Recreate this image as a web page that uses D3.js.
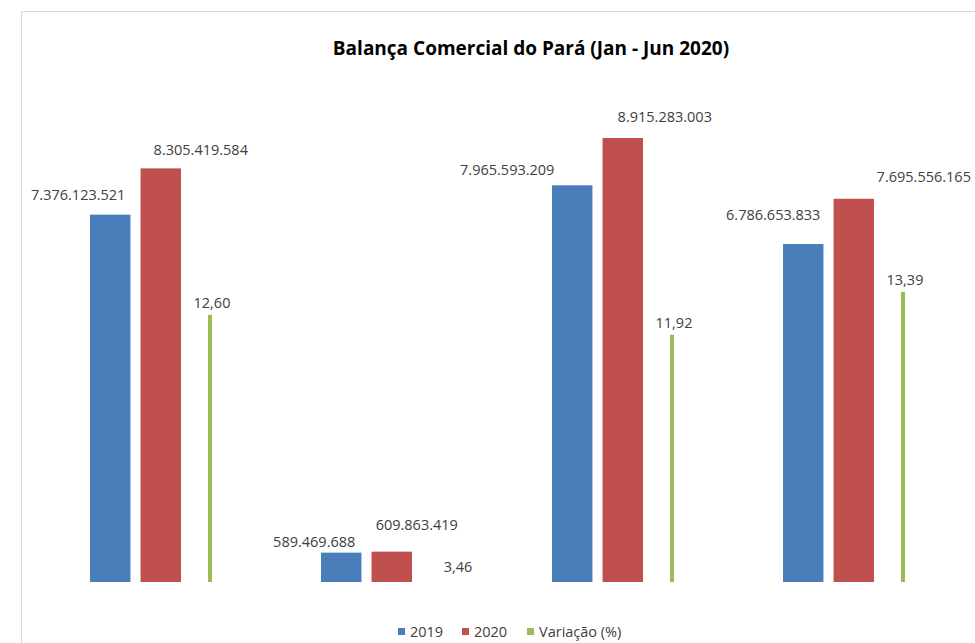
<!DOCTYPE html>
<html>
<head lang="pt">
  <meta charset="UTF-8">
<title>Balança Comercial do Pará</title>
<script src="https://cdn.jsdelivr.net/npm/d3@7"></script>
<style>
body { margin: 0; background: #fff; }
.lbl {
    font-family: "Open Sans", sans-serif;
    font-size: 14.5px;
    fill: #404040;
}
.title {
    font-family: "Open Sans", sans-serif;
    font-size: 19px;
    font-weight: bold;
    fill: #000;
}
</style>
</head>
<body>
<div id="vis"></div>
<script>

// data
var categories = ["Exportação", "Importação", "Corrente de Comércio", "Saldo Comercial"];
var v2019 = [7376123521, 589469688, 7965593209, 6786653833];
var v2020 = [8305419584, 609863419, 8915283003, 7695556165];
var variacao = [12.60, 3.46, 11.92, 13.39];
var series = ["2019", "2020", "Variação (%)"];

// layout (label nudges, as moved by hand in the original sheet)
var blueNudge  = [[-32, -20], [-27, -11], [-65, -15], [-30, -29]];
var redNudge   = [[40, -18], [25, -27], [42, -21], [70, -22]];
var greenNudge = [[2, -12], [17, -15], [2, -12], [2, -12]];

var colors = ["#4a7ebb", "#c0504d", "#9bbb59"];

var W = 975, H = 643;
var base = 582;

var svg = d3.select("#vis").append("svg")
  .attr("width", W)
  .attr("height", H);

// chart frame (cut off on the right)
svg.append("rect")
  .attr("x", 21.5).attr("y", 11.5)
  .attr("width", 1100).attr("height", 700)
  .attr("fill", "#fff")
  .attr("stroke", "#d9d9d9");

svg.append("text")
  .attr("class", "title")
  .attr("x", 531)
  .attr("y", 55)
  .attr("text-anchor", "middle")
  .text("Balança Comercial do Pará (Jan - Jun 2020)");

var x0 = d3.scaleBand().domain(categories).range([90, 90 + 4*231]);
var x1 = d3.scaleBand().domain(["2019", "2020"]).range([0, 91]).paddingInner(0.2);
var y = d3.scaleLinear().domain([0, 10e9]).range([base, 84]);
var y2 = d3.scaleLinear().domain([3.46, 14]).range([base, 274]);
var greenOff = 118, greenW = 4;

var fmt = function(v) { return d3.format(",")(v).replace(/,/g, "."); };
var fmtPct = function(v) { return d3.format(".2f")(v).replace(".", ","); };

var g = svg.selectAll(".grp")
  .data(categories)
  .enter().append("g")
  .attr("class", "grp")
  .attr("transform", function(d) { return "translate(" + x0(d) + ",0)"; });

// 2019
g.append("rect")
  .attr("x", x1("2019"))
  .attr("width", x1.bandwidth())
  .attr("y", function(d, i) { return y(v2019[i]); })
  .attr("height", function(d, i) { return base - y(v2019[i]); })
  .attr("fill", colors[0]);

// 2020
g.append("rect")
  .attr("x", x1("2020"))
  .attr("width", x1.bandwidth())
  .attr("y", function(d, i) { return y(v2020[i]); })
  .attr("height", function(d, i) { return base - y(v2020[i]); })
  .attr("fill", colors[1]);

// variacao (secondary axis)
g.append("rect")
  .attr("x", greenOff)
  .attr("width", greenW)
  .attr("y", function(d, i) { return y2(variacao[i]); })
  .attr("height", function(d, i) { return base - y2(variacao[i]); })
  .attr("fill", colors[2]);

// labels
g.append("text")
  .attr("class", "lbl")
  .attr("text-anchor", "middle")
  .attr("dy", "0.35em")
  .attr("x", function(d, i) { return x1("2019") + x1.bandwidth()/2 + blueNudge[i][0]; })
  .attr("y", function(d, i) { return y(v2019[i]) + blueNudge[i][1]; })
  .text(function(d, i) { return fmt(v2019[i]); });

g.append("text")
  .attr("class", "lbl")
  .attr("text-anchor", "middle")
  .attr("dy", "0.35em")
  .attr("x", function(d, i) { return x1("2020") + x1.bandwidth()/2 + redNudge[i][0]; })
  .attr("y", function(d, i) { return y(v2020[i]) + redNudge[i][1]; })
  .text(function(d, i) { return fmt(v2020[i]); });

g.append("text")
  .attr("class", "lbl")
  .attr("text-anchor", "middle")
  .attr("dy", "0.35em")
  .attr("x", function(d, i) { return greenOff + greenW/2 + greenNudge[i][0]; })
  .attr("y", function(d, i) { return y2(variacao[i]) + greenNudge[i][1]; })
  .text(function(d, i) { return fmtPct(variacao[i]); });

// legend
var legX = [398, 462, 527];
var leg = svg.selectAll(".leg")
  .data(series)
  .enter().append("g")
  .attr("class", "leg")
  .attr("transform", function(d, i) { return "translate(" + legX[i] + ",632)"; });

leg.append("rect")
  .attr("x", 0).attr("y", -4)
  .attr("width", 7).attr("height", 7)
  .attr("fill", function(d, i) { return colors[i]; });

leg.append("text")
  .attr("class", "lbl")
  .attr("x", 12)
  .attr("dy", "0.35em")
  .text(function(d) { return d; });

</script>
</body>
</html>
